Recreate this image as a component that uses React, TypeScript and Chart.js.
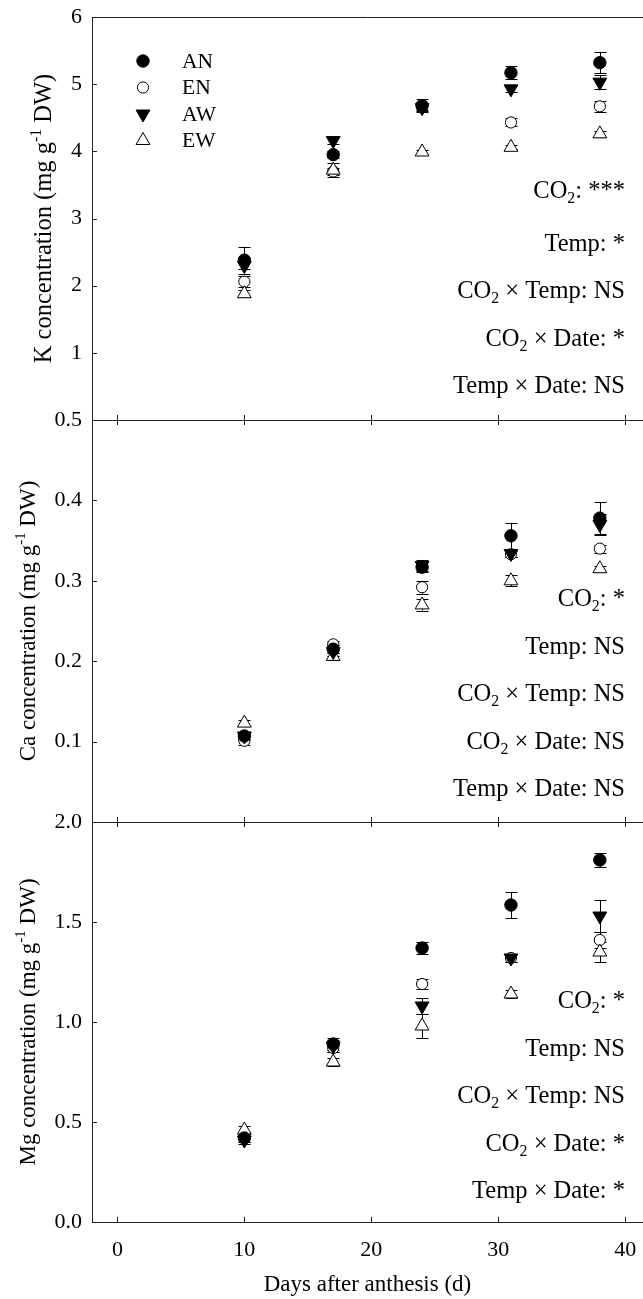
import { useEffect, useRef } from "react";
import { Chart, registerables } from "chart.js";

Chart.register(...registerables);

// ---------- data ----------
const days = [10, 17, 24, 31, 38];
const seriesLabels = ["AN", "EN", "AW", "EW"];
const xTickValues = [0, 10, 20, 30, 40];
const xTitle = "Days after anthesis (d)";

// K concentration
const kAN = [2.38, 3.95, 4.68, 5.17, 5.32];
const kEN = [2.06, 3.7, 4.66, 4.43, 4.67];
const kAW = [2.3, 4.16, 4.65, 4.93, 5.03];
const kEW = [1.88, 3.72, 3.99, 4.06, 4.26];
const kANse = [0.2, 0.05, 0.1, 0.1, 0.16];
const kENse = [0.08, 0.05, 0.05, 0.06, 0.08];
const kAWse = [0.05, 0.05, 0.05, 0.05, 0.1];
const kEWse = [0.05, 0.1, 0.03, 0.03, 0.04];
const kTicks = [1, 2, 3, 4, 5, 6];
const kNotes = ["CO2: ***", "Temp: *", "CO2 × Temp: NS", "CO2 × Date: *", "Temp × Date: NS"];

// Ca concentration
const caAN = [0.107, 0.215, 0.317, 0.356, 0.378];
const caEN = [0.101, 0.221, 0.292, 0.333, 0.34];
const caAW = [0.107, 0.212, 0.319, 0.334, 0.37];
const caEW = [0.123, 0.206, 0.27, 0.3, 0.315];
const caANse = [0.005, 0.005, 0.006, 0.016, 0.02];
const caENse = [0.005, 0.004, 0.008, 0.004, 0.005];
const caAWse = [0.004, 0.005, 0.007, 0.004, 0.013];
const caEWse = [0.004, 0.004, 0.007, 0.007, 0.004];
const caTicks = [0.1, 0.2, 0.3, 0.4, 0.5];
const caNotes = ["CO2: *", "Temp: NS", "CO2 × Temp: NS", "CO2 × Date: NS", "Temp × Date: NS"];

// Mg concentration
const mgAN = [0.42, 0.89, 1.37, 1.585, 1.81];
const mgEN = [0.42, 0.87, 1.19, 1.32, 1.41];
const mgAW = [0.41, 0.88, 1.08, 1.32, 1.53];
const mgEW = [0.46, 0.8, 0.98, 1.14, 1.35];
const mgANse = [0.02, 0.03, 0.03, 0.065, 0.035];
const mgENse = [0.02, 0.02, 0.025, 0.02, 0.04];
const mgAWse = [0.02, 0.03, 0.04, 0.02, 0.08];
const mgEWse = [0.02, 0.02, 0.06, 0.02, 0.05];
const mgTicks = [0, 0.5, 1, 1.5, 2];
const mgNotes = ["CO2: *", "Temp: NS", "CO2 × Temp: NS", "CO2 × Date: *", "Temp × Date: *"];

// ---------- styles ----------
const FONT = "'Liberation Serif', 'Times New Roman', Times, serif";
const LINE = "#222";
const TICK_SIZE = 22;
const NOTE_SIZE = 24.5;
const XTITLE_SIZE = 23;
const LEGEND_SIZE = 21.5;

const markerStyles = [
  { shape: "circle", r: 6.2, fill: "#000", rot: 0, order: 1 },
  { shape: "circle", r: 5.6, fill: "#fff", rot: 0, order: 3 },
  { shape: "triangle", r: 8, fill: "#000", rot: 180, order: 0 },
  { shape: "triangle", r: 8, fill: "#fff", rot: 0, order: 2 },
];

const panels = [
  {
    title: "K concentration (mg g^{-1} DW)",
    titleSize: 24.5,
    values: [kAN, kEN, kAW, kEW],
    errors: [kANse, kENse, kAWse, kEWse],
    yMin: 0, yMax: 6, ticks: kTicks, decimals: 0, notes: kNotes,
    noteFirst: 173,
    top: 0, height: 440, padTop: 17, xAxisH: 20, titleX: 43,
    legend: true, topTicks: false, showX: false,
  },
  {
    title: "Ca concentration (mg g^{-1} DW)",
    titleSize: 23,
    values: [caAN, caEN, caAW, caEW],
    errors: [caANse, caENse, caAWse, caEWse],
    yMin: 0, yMax: 0.5, ticks: caTicks, decimals: 1, notes: caNotes,
    noteFirst: 178,
    top: 400, height: 440, padTop: 20, xAxisH: 18, titleX: 27,
    legend: false, topTicks: true, showX: false,
  },
  {
    title: "Mg concentration (mg g^{-1} DW)",
    titleSize: 23,
    values: [mgAN, mgEN, mgAW, mgEW],
    errors: [mgANse, mgENse, mgAWse, mgEWse],
    yMin: 0, yMax: 2, ticks: mgTicks, decimals: 1, notes: mgNotes,
    noteFirst: 178,
    top: 802, height: 497, padTop: 20, xAxisH: 77, titleX: 27,
    legend: false, topTicks: true, showX: true,
  },
];

// ---------- rich text helpers ----------
type Seg = { t: string; s?: "sub" | "sup" };
function parseRich(str: string): Seg[] {
  const out: Seg[] = [];
  const re = /(CO2)|\^\{([^}]*)\}/g;
  let last = 0;
  let m: RegExpExecArray | null;
  while ((m = re.exec(str))) {
    if (m.index > last) out.push({ t: str.slice(last, m.index) });
    if (m[1]) {
      out.push({ t: "CO" });
      out.push({ t: "2", s: "sub" });
    } else {
      out.push({ t: m[2], s: "sup" });
    }
    last = re.lastIndex;
  }
  if (last < str.length) out.push({ t: str.slice(last) });
  return out;
}
function drawRich(ctx: CanvasRenderingContext2D, str: string, x: number, cy: number, size: number, align: "right" | "center") {
  const segs = parseRich(str);
  const small = size * 0.65;
  let total = 0;
  const widths = segs.map((s) => {
    ctx.font = `${s.s ? small : size}px ${FONT}`;
    const w = ctx.measureText(s.t).width;
    total += w;
    return w;
  });
  let cx = align === "right" ? x - total : x - total / 2;
  const base = cy + size * 0.33;
  ctx.textAlign = "left";
  ctx.textBaseline = "alphabetic";
  segs.forEach((s, i) => {
    ctx.font = `${s.s ? small : size}px ${FONT}`;
    const dy = s.s === "sub" ? size * 0.22 : s.s === "sup" ? -size * 0.42 : 0;
    ctx.fillText(s.t, cx, base + dy);
    cx += widths[i];
  });
}
function drawMarker(ctx: CanvasRenderingContext2D, st: any, x: number, y: number) {
  ctx.beginPath();
  if (st.shape === "circle") {
    ctx.arc(x, y, st.r, 0, Math.PI * 2);
  } else {
    let rad = (st.rot * Math.PI) / 180;
    for (let k = 0; k < 3; k++) {
      const px = x + Math.sin(rad) * st.r;
      const py = y - Math.cos(rad) * st.r;
      if (k === 0) ctx.moveTo(px, py);
      else ctx.lineTo(px, py);
      rad += (2 * Math.PI) / 3;
    }
    ctx.closePath();
  }
  ctx.fillStyle = st.fill;
  ctx.fill();
  ctx.lineWidth = 1;
  ctx.strokeStyle = "#000";
  ctx.stroke();
}

// ---------- plugins ----------
const errorBars = {
  id: "errorBars",
  beforeDatasetsDraw(chart: any) {
    const { ctx, scales } = chart;
    const xs = scales.x;
    const ys = scales.y;
    ctx.save();
    ctx.strokeStyle = "#000";
    ctx.lineWidth = 1;
    chart.data.datasets.forEach((ds: any) => {
      ds.data.forEach((pt: any, j: number) => {
        const e = ds.errors[j];
        const px = Math.round(xs.getPixelForValue(pt.x)) + 0.5;
        const yt = ys.getPixelForValue(pt.y + e);
        const yb = ys.getPixelForValue(pt.y - e);
        ctx.beginPath();
        ctx.moveTo(px, yt);
        ctx.lineTo(px, yb);
        ctx.moveTo(px - 6, Math.round(yt) + 0.5);
        ctx.lineTo(px + 6, Math.round(yt) + 0.5);
        ctx.moveTo(px - 6, Math.round(yb) + 0.5);
        ctx.lineTo(px + 6, Math.round(yb) + 0.5);
        ctx.stroke();
      });
    });
    ctx.restore();
  },
};

const decorations = {
  id: "decorations",
  afterDraw(chart: any, _args: any, opts: any) {
    const p = opts.panel;
    const { ctx, chartArea: a, scales } = chart;
    const xs = scales.x;
    const ys = scales.y;
    ctx.save();
    ctx.strokeStyle = LINE;
    ctx.lineWidth = 1;
    ctx.beginPath();
    ctx.moveTo(a.left, Math.round(a.top) + 0.5);
    ctx.lineTo(a.right, Math.round(a.top) + 0.5);
    xs.ticks.forEach((t: any) => {
      const px = Math.round(xs.getPixelForValue(t.value)) + 0.5;
      ctx.moveTo(px, a.bottom);
      ctx.lineTo(px, a.bottom - 5);
      if (p.topTicks) {
        ctx.moveTo(px, a.top);
        ctx.lineTo(px, a.top + 5);
      }
    });
    ys.ticks.forEach((t: any) => {
      const py = Math.round(ys.getPixelForValue(t.value)) + 0.5;
      ctx.moveTo(a.left, py);
      ctx.lineTo(a.left + 5, py);
    });
    ctx.stroke();

    ctx.fillStyle = "#000";
    // notes
    p.notes.forEach((n: string, i: number) => {
      const off = i === 0 ? p.noteFirst : 178 + 47.5 * i;
      drawRich(ctx, n, 625, a.top + off, NOTE_SIZE, "right");
    });
    // y title
    ctx.save();
    ctx.translate(p.titleX, (a.top + a.bottom) / 2);
    ctx.rotate(-Math.PI / 2);
    ctx.fillStyle = "#000";
    drawRich(ctx, p.title, 0, 0, p.titleSize, "center");
    ctx.restore();
    // legend
    if (p.legend) {
      seriesLabels.forEach((lab, i) => {
        const y = a.top + 44 + 26.5 * i;
        drawMarker(ctx, markerStyles[i], a.left + 51, y);
        ctx.fillStyle = "#000";
        ctx.font = `${LEGEND_SIZE}px ${FONT}`;
        ctx.textAlign = "left";
        ctx.textBaseline = "middle";
        ctx.fillText(lab, a.left + 90, y + 1);
      });
    }
    ctx.restore();
  },
};

function buildConfig(p: any): any {
  const datasets = seriesLabels.map((lab, i) => {
    const st = markerStyles[i];
    return {
      label: lab,
      data: days.map((d, j) => ({ x: d, y: p.values[i][j] })),
      errors: p.errors[i],
      showLine: false,
      order: st.order,
      pointStyle: st.shape,
      pointRadius: st.r,
      pointRotation: st.rot,
      pointBackgroundColor: st.fill,
      pointBorderColor: "#000",
      pointBorderWidth: 1,
    };
  });
  return {
    type: "scatter",
    data: { datasets },
    plugins: [errorBars, decorations],
    options: {
      responsive: false,
      devicePixelRatio: 1,
      animation: false,
      events: [],
      layout: { autoPadding: false, padding: { top: p.padTop, left: 0, right: 0, bottom: 0 } },
      plugins: {
        legend: { display: false },
        tooltip: { enabled: false },
        decorations: { panel: p },
      },
      scales: {
        x: {
          type: "linear",
          min: -2,
          max: 41.4,
          afterBuildTicks: (s: any) => {
            s.ticks = xTickValues.map((v) => ({ value: v }));
          },
          afterFit: (s: any) => {
            s.height = p.xAxisH;
            s.paddingLeft = 0;
            s.paddingRight = 0;
          },
          grid: { display: false, drawTicks: false },
          border: { display: true, color: LINE, width: 1 },
          ticks: {
            display: p.showX,
            color: "#000",
            padding: 15,
            maxRotation: 0,
            font: { family: FONT, size: TICK_SIZE },
          },
          title: {
            display: p.showX,
            text: xTitle,
            color: "#000",
            padding: { top: 0, bottom: 0 },
            font: { family: FONT, size: XTITLE_SIZE },
          },
        },
        y: {
          type: "linear",
          min: p.yMin,
          max: p.yMax,
          afterBuildTicks: (s: any) => {
            s.ticks = p.ticks.map((v: number) => ({ value: v }));
          },
          afterFit: (s: any) => {
            s.width = 92;
            s.paddingTop = 0;
            s.paddingBottom = 0;
          },
          grid: { display: false, drawTicks: false },
          border: { display: true, color: LINE, width: 1 },
          ticks: {
            color: "#000",
            padding: 10,
            font: { family: FONT, size: TICK_SIZE },
            callback: (v: any) => Number(v).toFixed(p.decimals),
          },
        },
      },
    },
  };
}

function Panel({ p }: { p: any }) {
  const ref = useRef<HTMLCanvasElement | null>(null);
  useEffect(() => {
    if (!ref.current) return;
    const chart = new Chart(ref.current, buildConfig(p));
    return () => chart.destroy();
  }, [p]);
  return (
    <canvas
      ref={ref}
      width={643}
      height={p.height}
      style={{ position: "absolute", left: 0, top: p.top, width: 643, height: p.height }}
    />
  );
}

export default function App() {
  return (
    <div style={{ position: "absolute", left: 0, top: 0, width: 643, height: 1299, background: "#fff", overflow: "hidden" }}>
      {panels.map((p, i) => (
        <Panel key={i} p={p} />
      ))}
    </div>
  );
}
